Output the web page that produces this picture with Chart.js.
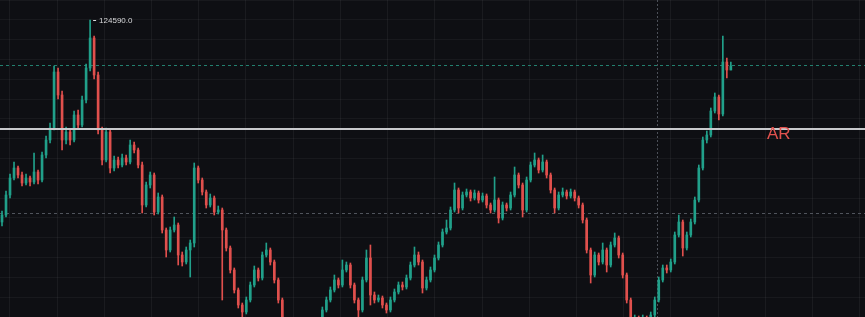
<!DOCTYPE html>
<html>
<head>
<meta charset="utf-8">
<script src="https://cdn.jsdelivr.net/npm/chart.js@4/dist/chart.umd.min.js"></script>
<style>
html, body { margin: 0; padding: 0; background: #0e0f13; }
canvas { display: block; }
</style>
</head>
<body>
<canvas id="myChart" width="865" height="317"></canvas>
<script>
// candle prices, one entry per candle, left to right
const opens = [
    114490,114840,115840,116690,117190,116840,116440,116690,116490,116990,
    116590,117840,118590,119190,121990,120840,118590,118990,118590,119840,
    119340,120590,122190,123690,121840,119090,117590,118990,117190,117590,
    117340,117690,117490,118340,118090,117340,115340,116340,116840,114990,
    115740,114090,113090,114090,114340,112840,112490,113090,113440,117190,
    116590,115990,115340,115690,114990,115090,114090,113190,112090,111090,
    110340,109990,110590,111340,112090,111690,112840,113090,112490,111590,
    110590,109690,109190,108840,108490,108690,108340,108590,108840,109090,
    109340,110090,110590,111090,111590,111340,112090,112340,111340,110590,
    110090,111590,112690,110840,110590,110690,110340,110090,110590,110990,
    111340,111240,111690,112340,112840,112490,111190,111590,112090,112690,
    113340,113990,114190,115090,116090,115190,115840,115990,115690,115940,
    115590,115790,115340,115090,115590,114690,115340,115190,115840,116840,
    116340,115090,116590,117340,117590,117090,117490,116840,116090,115190,
    115840,115990,115790,115990,115690,115340,114590,113090,111840,112840,
    112490,113090,112340,113340,113690,112840,111840,110590,109490,109690,
    109340,109690,109490,109840,110590,111590,112190,112090,112490,113840,
    114490,113190,113840,114490,115590,117190,118590,118840,120040,120740,
    119890,122490,122090
];
const highs = [
    115040,116040,116890,117490,117290,116990,116890,116790,117940,117090,
    117990,118790,119440,122290,122190,121040,119240,119140,120040,120090,
    120790,122390,124590,123790,121990,119240,119190,119090,117790,117740,
    117890,117840,118590,118490,118190,117490,116490,116990,116940,115940,
    115840,114190,114240,114740,114440,112990,113240,113590,117440,117290,
    116690,116090,115890,115790,115290,115190,114190,113290,112190,111190,
    110440,110740,111490,112290,112190,112990,113440,113190,112590,111690,
    110690,109690,109290,108940,108790,108790,108690,108940,109190,109490,
    110240,110740,111240,111840,111690,112590,112490,112440,111440,110690,
    111740,113090,113340,110990,110840,110790,110440,110740,111140,111490,
    111490,111840,112490,113240,112990,112590,111740,112240,112840,113490,
    114140,114590,115240,116440,116190,115990,116140,116090,116090,116040,
    115940,115890,115440,116740,115690,115490,115440,115990,117240,116940,
    116440,116740,117490,117940,117690,117840,117590,116940,116190,115990,
    116190,116090,116140,116090,115790,115440,114690,113190,112990,112940,
    113440,113190,113490,113940,113790,112940,111940,110690,109840,109790,
    109840,109790,109990,110740,111740,112340,112340,112640,113990,114840,
    114590,113990,114640,115740,117340,118740,119040,120190,120940,120840,
    123790,122690,122490
];
const lows = [
    114290,114740,115690,116590,116690,116290,116340,116290,116390,116390,
    116490,117690,118440,119090,120640,118090,118390,118340,118490,119140,
    119240,120440,122040,121640,118890,117340,117490,116940,117040,117190,
    117240,117340,117390,117940,117190,114940,115240,116190,114840,114890,
    113940,112740,112990,113990,112340,112290,112390,111740,113240,116440,
    115840,115190,115240,114840,114890,110590,113040,111940,110940,110190,
    109590,109890,110490,111240,111540,111590,112740,112340,111440,110440,
    109540,109040,108690,108340,108390,108190,108240,108490,108740,108990,
    109240,109990,110490,110990,111190,111240,111990,111190,110440,109690,
    109990,111490,110340,110440,110490,110190,109940,109990,110490,110890,
    111090,111140,111590,112240,112340,110940,111090,111490,111990,112590,
    113240,113890,114090,114990,114940,115090,115740,115540,115590,115440,
    115490,115190,114940,114990,114440,114590,115040,115090,115740,116190,
    114740,114990,116490,117240,116940,116990,116690,115940,114940,115090,
    115740,115640,115690,115540,115190,114440,112940,111440,111740,112340,
    112390,111990,112240,113240,112690,111690,110440,109340,109390,109190,
    109240,109340,109390,109740,110490,111490,111940,111990,112390,113740,
    112790,113090,113740,114390,115490,117090,118440,118740,119940,119590,
    119790,121690,122090
];
const closes = [
    114840,115840,116690,117190,116840,116440,116690,116490,116990,116590,
    117840,118590,119190,121990,120840,118590,118990,118590,119840,119340,
    120590,122190,123690,121840,119090,117590,118990,117190,117590,117340,
    117690,117490,118340,118090,117340,115340,116340,116840,114990,115740,
    114090,113090,114090,114340,112840,112490,113090,113440,117190,116590,
    115990,115340,115690,114990,115090,114090,113190,112090,111090,110340,
    109990,110590,111340,112090,111690,112840,113090,112490,111590,110590,
    109690,109190,108840,108490,108690,108340,108590,108840,109090,109340,
    110090,110590,111090,111590,111340,112090,112340,111340,110590,110090,
    111590,112690,110840,110590,110690,110340,110090,110590,110990,111340,
    111240,111690,112340,112840,112490,111190,111590,112090,112690,113340,
    113990,114190,115090,116090,115190,115840,115990,115690,115940,115590,
    115790,115340,115090,115590,114690,115340,115190,115840,116840,116340,
    115090,116590,117340,117590,117090,117490,116840,116090,115190,115840,
    115990,115790,115990,115690,115340,114590,113090,111840,112840,112490,
    113090,112340,113340,113690,112840,111840,110590,109490,109690,109340,
    109690,109490,109840,110590,111590,112190,112090,112490,113840,114490,
    113190,113840,114490,115590,117190,118590,118840,120040,120740,119890,
    122490,122090,122290
];

// price levels marked on the chart
const levelUpper = 122340;
const levelMain = 119140;
const levelLower = 114960;
const levelMainLabel = 'AR';
const crosshairIndex = 163.5;

const upColor = '#21a08a';
const downColor = '#e0504d';

var bodies = [];
var wicks = [];
var colors = [];
for (let i = 0; i < closes.length; i++) {
    bodies.push({x: i, y: [opens[i], closes[i]]});
    wicks.push({x: i, y: [lows[i], highs[i]]});
    colors.push(closes[i] >= opens[i] ? upColor : downColor);
}

function hLine(ctx, area, py, color, width, dash) {
    ctx.beginPath();
    ctx.lineWidth = width;
    ctx.strokeStyle = color;
    ctx.setLineDash(dash);
    ctx.moveTo(area.left, py);
    ctx.lineTo(area.right, py);
    ctx.stroke();
}

const overlay = {
    id: 'overlay',
    beforeDatasetsDraw(chart) {
        const ctx = chart.ctx, a = chart.chartArea;
        const x = chart.scales.x, y = chart.scales.y;
        ctx.save();
        hLine(ctx, a, Math.round(y.getPixelForValue(levelUpper)) + 0.5, '#23806f', 1, [3, 3]);
        hLine(ctx, a, Math.round(y.getPixelForValue(levelLower)) + 0.5, '#50545c', 1, [3, 3]);
        // crosshair
        var cx = Math.round(x.getPixelForValue(crosshairIndex)) + 0.5;
        ctx.beginPath();
        ctx.lineWidth = 1;
        ctx.strokeStyle = '#4c5058';
        ctx.setLineDash([2, 2]);
        ctx.moveTo(cx, a.top);
        ctx.lineTo(cx, a.bottom);
        ctx.stroke();
        ctx.restore();
    },
    afterDatasetsDraw(chart) {
        const ctx = chart.ctx, a = chart.chartArea;
        const x = chart.scales.x, y = chart.scales.y;
        ctx.save();
        var my = Math.round(y.getPixelForValue(levelMain));
        hLine(ctx, a, my, '#c8c9cc', 2, []);
        ctx.fillStyle = '#e4524e';
        ctx.font = '17px "Liberation Sans", Arial, sans-serif';
        ctx.textBaseline = 'middle';
        ctx.fillText(levelMainLabel, a.right - 98, my + 5);

        // highest high marker
        var hi = 0;
        for (let i = 1; i < highs.length; i++) if (highs[i] > highs[hi]) hi = i;
        var px = x.getPixelForValue(hi), py = y.getPixelForValue(highs[hi]);
        ctx.strokeStyle = '#d8d9db';
        ctx.lineWidth = 1;
        ctx.beginPath();
        ctx.moveTo(px + 3, py + 0.5);
        ctx.lineTo(px + 6, py + 0.5);
        ctx.stroke();
        ctx.fillStyle = '#d8d9db';
        ctx.font = '8px "Liberation Sans", Arial, sans-serif';
        ctx.fillText(highs[hi].toFixed(1), px + 9, py + 1);
        ctx.restore();
    }
};

const ctx = document.getElementById('myChart').getContext('2d');
const myChart = new Chart(ctx, {
    type: 'bar',
    data: {
        datasets: [{
            data: wicks,
            backgroundColor: colors,
            barThickness: 1,
            grouped: false,
            order: 2
        }, {
            data: bodies,
            backgroundColor: colors,
            barThickness: 2,
            grouped: false,
            order: 1
        }]
    },
    options: {
        responsive: false,
        animation: false,
        devicePixelRatio: 1,
        layout: { padding: 0 },
        plugins: { legend: { display: false }, tooltip: { enabled: false } },
        scales: {
            x: {
                type: 'linear',
                min: -0.5,
                max: 215.5,
                offset: false,
                display: false,
                grid: { offset: false }
            },
            xg: {
                type: 'linear',
                position: 'bottom',
                min: -10,
                max: 855,
                ticks: { display: false, stepSize: 50, includeBounds: false },
                grid: { color: 'rgba(255,255,255,0.05)', drawTicks: false },
                border: { display: false }
            },
            y: {
                type: 'linear',
                min: 109740,
                max: 125590,
                beginAtZero: false,
                ticks: { display: false, stepSize: 1000, includeBounds: false },
                grid: { color: 'rgba(255,255,255,0.045)', drawTicks: false },
                border: { display: false }
            }
        }
    },
    plugins: [overlay]
});
</script>
</body>
</html>
